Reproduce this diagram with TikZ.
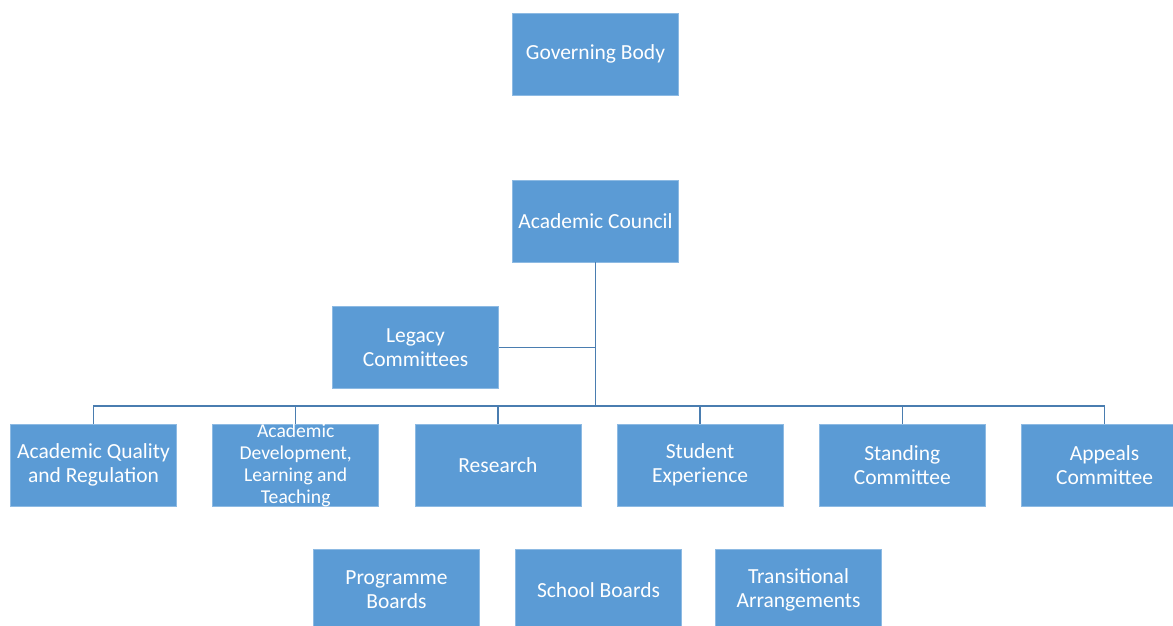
\documentclass[tikz,border=0pt]{standalone}
\usepackage{fontspec}
\setmainfont{Carlito}
\usepackage{tikz}
\usetikzlibrary{positioning,calc}
\definecolor{boxblue}{HTML}{5B9BD5}
\definecolor{boxedge}{HTML}{8DBAE3}
\definecolor{linkblue}{HTML}{4A7DB0}

\begin{document}
\begin{tikzpicture}[
    x=1pt, y=1pt,
    unit/.style={rectangle, draw=boxedge, fill=boxblue, line width=0.8pt,
                 minimum width=166pt, minimum height=82pt, inner sep=2pt,
                 align=center, text=white, font=\fontsize{21.5}{24}\selectfont},
    crowded/.style={align=center, text=white, font=\fontsize{19.6}{22}\selectfont},
    link/.style={draw=linkblue, line width=1.5pt}
]
\useasboundingbox (0,0) rectangle (1173,-625);

% top of the tree
\node[unit] (council) at (595.5,-221) {Academic Council};
\node[unit, above=84pt of council] (gov) {Governing Body};
\node[unit] (legacy) at (415.5,-347.5) {Legacy\\Committees};

% committees
\node[unit] (aqr) at (93.5,-465) {Academic Quality\\and Regulation};
\node[unit, right=35.4pt of aqr,
      label={[crowded]center:Academic\\Development,\\Learning and\\Teaching}] (adlt) {};
\node[unit, right=35.4pt of adlt] (research) {Research};
\node[unit, right=35.4pt of research] (student) {Student\\Experience};
\node[unit, right=35.4pt of student] (standing) {Standing\\Committee};
\node[unit, right=35.4pt of standing] (appeals) {Appeals\\Committee};

% boards
\node[unit] (prog) at (396.5,-590) {Programme\\Boards};
\node[unit, right=35.2pt of prog] (school) {School Boards};
\node[unit, right=33.2pt of school] (trans) {Transitional\\Arrangements};

% connectors
\coordinate (hub) at (595.5,-406);
\draw[link] (council.south) -- (hub);
\draw[link] (legacy.east) -- (legacy.east -| council.south);
\foreach \n in {aqr,adlt,research,student,standing,appeals}
    \draw[link] (hub) -| (\n.north);
\end{tikzpicture}
\end{document}
